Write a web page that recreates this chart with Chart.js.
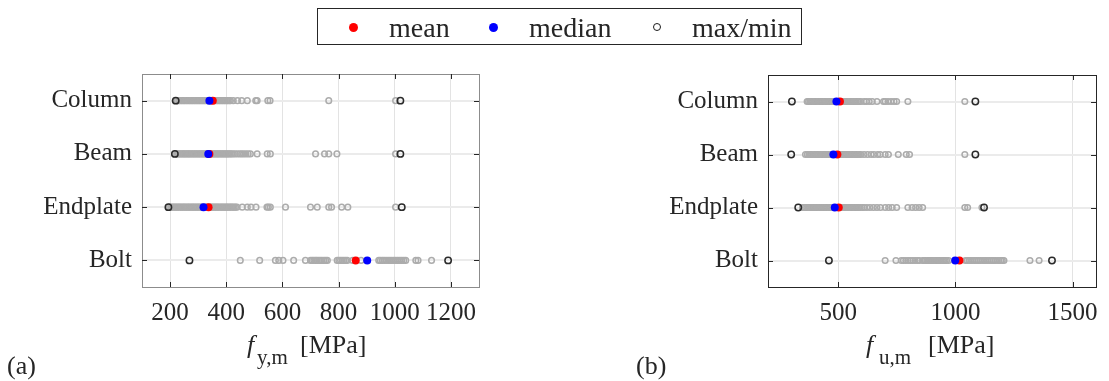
<!DOCTYPE html>
<html><head><meta charset="utf-8">
<script src="https://cdn.jsdelivr.net/npm/chart.js@4.4.1/dist/chart.umd.min.js"></script>
<style>
body{margin:0;width:1109px;height:381px;background:#fff;position:relative;overflow:hidden;font-family:"Liberation Serif","Times New Roman",serif;color:#262626}
.t{position:absolute;white-space:nowrap;line-height:1}
canvas{position:absolute;top:0}
.dot{position:absolute;border-radius:50%;box-sizing:border-box}
</style></head><body>
<canvas id="c1" width="490" height="381" style="left:0"></canvas>
<canvas id="c2" width="489" height="381" style="left:620px"></canvas>

<div style="position:absolute;left:317px;top:8px;width:485px;height:37px;border:1px solid #262626;box-sizing:border-box"></div>
<div class="dot" style="left:349px;top:22.5px;width:9px;height:9px;background:#ff0000"></div>
<div class="t" style="left:389px;top:13.5px;font-size:28px">mean</div>
<div class="dot" style="left:489px;top:22.5px;width:9px;height:9px;background:#0000ff"></div>
<div class="t" style="left:529px;top:13.5px;font-size:28px">median</div>
<div class="dot" style="left:653px;top:23px;width:8px;height:8px;border:1.5px solid #1a1a1a"></div>
<div class="t" style="left:692px;top:13.5px;font-size:28px">max/min</div>

<div class="t" style="left:247px;top:332px;font-size:26px;font-style:italic">f</div>
<div class="t" style="left:257px;top:346.5px;font-size:21px">y,m</div>
<div class="t" style="left:300px;top:332px;font-size:26px">[MPa]</div>

<div class="t" style="left:866px;top:332px;font-size:26px;font-style:italic">f</div>
<div class="t" style="left:879px;top:346.5px;font-size:21px">u,m</div>
<div class="t" style="left:928px;top:332px;font-size:26px">[MPa]</div>

<div class="t" style="left:7px;top:353px;font-size:26px">(a)</div>
<div class="t" style="left:636px;top:353px;font-size:26px">(b)</div>

<script>
// categories from bottom (y=1) to top (y=4)
const categories = ['Bolt', 'Endplate', 'Beam', 'Column'];

// ---- (a) yield strength f_y,m [MPa] ----
const fyTicks = [200, 400, 600, 800, 1000, 1200];
const fyBolt = [450, 519, 575, 587, 602, 640, 682, 700, 706, 712, 718, 723, 729, 735, 741, 748, 754, 760, 795, 801, 807, 813, 819, 825, 831, 850, 880, 943, 949, 956, 962, 969, 976, 983, 990, 997, 1004, 1011, 1018, 1025, 1032, 1039, 1075, 1083, 1131];
const fyEndplate = [198, 203, 207, 212, 216, 221, 225, 230, 234, 239, 243, 248, 252, 257, 261, 266, 270, 275, 279, 284, 288, 293, 297, 302, 306, 311, 315, 320, 324, 329, 333, 338, 342, 347, 351, 356, 360, 365, 369, 374, 378, 383, 387, 392, 396, 401, 405, 410, 414, 419, 423, 428, 433, 438, 457, 475, 488, 506, 545, 550, 557, 611, 700, 724, 765, 775, 811, 833, 1003];
const fyBeam = [220, 225, 229, 234, 238, 243, 247, 252, 256, 261, 265, 270, 274, 279, 283, 288, 292, 297, 301, 306, 310, 315, 319, 324, 328, 333, 337, 342, 346, 351, 355, 360, 364, 369, 373, 378, 382, 387, 391, 396, 400, 405, 409, 414, 419, 425, 432, 440, 448, 455, 462, 470, 478, 486, 510, 546, 557, 718, 750, 765, 794, 1003];
const fyColumn = [222, 226, 231, 235, 240, 244, 249, 253, 258, 262, 267, 271, 276, 280, 285, 289, 294, 298, 303, 307, 312, 316, 321, 325, 330, 334, 339, 343, 348, 352, 357, 361, 366, 370, 375, 379, 384, 388, 393, 397, 402, 406, 411, 415, 425, 440, 455, 475, 505, 510, 548, 556, 765, 1003];
const fyMean = [861, 337, 340, 352];
const fyMedian = [902, 319, 336, 340];
const fyMin = [269, 194, 217, 220];
const fyMax = [1190, 1025, 1020, 1020];

// ---- (b) ultimate strength f_u,m [MPa] ----
const fuTicks = [500, 1000, 1500];
const fuBolt = [700, 746, 769, 778, 788, 798, 808, 818, 828, 838, 846, 860, 866, 872, 878, 884, 890, 896, 902, 908, 914, 920, 926, 932, 938, 944, 950, 956, 962, 971, 1043, 1050, 1058, 1066, 1074, 1082, 1090, 1098, 1106, 1114, 1122, 1130, 1138, 1146, 1154, 1162, 1170, 1178, 1186, 1194, 1200, 1207, 1318, 1357];
const fuEndplate = [347, 353, 359, 365, 371, 377, 383, 389, 395, 401, 407, 413, 419, 425, 431, 437, 443, 449, 455, 461, 467, 473, 479, 485, 491, 497, 503, 509, 515, 521, 527, 533, 539, 545, 551, 557, 563, 569, 575, 581, 587, 593, 602, 610, 622, 635, 650, 665, 680, 700, 715, 730, 749, 797, 815, 830, 845, 860, 1040, 1052, 1113];
const fuBeam = [360, 368, 375, 380, 386, 392, 398, 404, 410, 416, 422, 428, 434, 440, 446, 452, 458, 464, 470, 476, 482, 488, 494, 500, 506, 512, 518, 524, 530, 536, 542, 548, 554, 560, 566, 572, 578, 584, 590, 596, 610, 625, 640, 652, 668, 679, 700, 714, 756, 790, 804, 1040];
const fuColumn = [367, 373, 379, 385, 391, 397, 403, 409, 415, 421, 427, 433, 439, 445, 451, 457, 463, 469, 475, 481, 487, 493, 499, 505, 511, 517, 523, 529, 535, 541, 547, 553, 559, 565, 571, 577, 583, 590, 596, 610, 620, 632, 645, 665, 693, 700, 712, 725, 738, 749, 797, 1040];
const fuMean = [1017, 502, 496, 507];
const fuMedian = [999, 485, 479, 492];
const fuMin = [460, 329, 299, 302];
const fuMax = [1412, 1122, 1085, 1085];

function samplePoints(groups) {
  const pts = [];
  groups.forEach((arr, i) => arr.forEach(v => pts.push({x: v, y: i + 1})));
  return pts;
}
function statPoints(arr) { return arr.map((v, i) => ({x: v, y: i + 1})); }

const boxPlugin = {
  id: 'box',
  afterDatasetsDraw(chart, args, opts) {
    const {ctx, chartArea: a, scales} = chart;
    ctx.save();
    ctx.strokeStyle = opts.color;
    ctx.lineWidth = 1;
    ctx.strokeRect(Math.round(a.left) + 0.5, Math.round(a.top) + 0.5, Math.round(a.right - a.left), Math.round(a.bottom - a.top));
    ctx.strokeStyle = '#262626';
    ctx.beginPath();
    const L = 5;
    scales.x.ticks.forEach(t => {
      const px = Math.round(scales.x.getPixelForValue(t.value)) + 0.5;
      ctx.moveTo(px, a.bottom); ctx.lineTo(px, a.bottom - L);
      ctx.moveTo(px, a.top); ctx.lineTo(px, a.top + L);
    });
    scales.y.ticks.forEach(t => {
      const py = Math.round(scales.y.getPixelForValue(t.value)) + 0.5;
      ctx.moveTo(a.left, py); ctx.lineTo(a.left + L, py);
      ctx.moveTo(a.right, py); ctx.lineTo(a.right - L, py);
    });
    ctx.stroke();
    ctx.restore();
  }
};

function makeChart(id, c) {
  const font = {family: '"Liberation Serif", "Times New Roman", serif', size: 25};
  return new Chart(document.getElementById(id), {
    type: 'scatter',
    data: {datasets: [
      {label: 'median', data: statPoints(c.median), pointRadius: 4, backgroundColor: '#0000ff', borderColor: '#0000ff', borderWidth: 0, order: 0},
      {label: 'mean', data: statPoints(c.mean), pointRadius: 4, backgroundColor: '#ff0000', borderColor: '#ff0000', borderWidth: 0, order: 1},
      {label: 'max/min', data: statPoints(c.min).concat(statPoints(c.max)), pointRadius: 3.2, backgroundColor: 'rgba(0,0,0,0)', borderColor: '#2a2a2a', borderWidth: 1.5, order: 2},
      {label: 'samples', data: samplePoints(c.groups), pointRadius: 2.8, backgroundColor: 'rgba(0,0,0,0)', borderColor: 'rgb(172,172,172)', borderWidth: 1.5, order: 3}
    ]},
    options: {
      responsive: false, animation: false, devicePixelRatio: 1,
      layout: {padding: {left: 0, right: c.padR, top: c.padT, bottom: 0}},
      plugins: {legend: {display: false}, tooltip: {enabled: false}, box: {color: c.boxColor}},
      events: [],
      scales: {
        x: {
          type: 'linear', min: c.xmin, max: c.xmax,
          afterBuildTicks: s => { s.ticks = c.ticks.map(v => ({value: v})); },
          afterFit: s => { s.height = 94; },
          grid: {color: '#e3e3e3', lineWidth: 1, drawTicks: false},
          border: {display: false},
          ticks: {font, color: '#262626', padding: 11, maxRotation: 0, autoSkip: false, callback: v => String(v)}
        },
        y: {
          type: 'linear', min: 0.5, max: 4.5,
          afterBuildTicks: s => { s.ticks = categories.map((n, i) => ({value: i + 1})); },
          afterFit: s => { s.width = c.yw; },
          grid: {color: '#ebebeb', lineWidth: 2, drawTicks: false},
          border: {display: false},
          ticks: {font, color: '#262626', padding: 10, callback: v => categories[v - 1]}
        }
      }
    },
    plugins: [boxPlugin]
  });
}

makeChart('c1', {groups: [fyBolt, fyEndplate, fyBeam, fyColumn], mean: fyMean, median: fyMedian, min: fyMin, max: fyMax,
  ticks: fyTicks, xmin: 100, xmax: 1300, yw: 142, padR: 11, padT: 74, boxColor: '#8c8c8c'});
makeChart('c2', {groups: [fuBolt, fuEndplate, fuBeam, fuColumn], mean: fuMean, median: fuMedian, min: fuMin, max: fuMax,
  ticks: fuTicks, xmin: 200, xmax: 1600, yw: 148, padR: 5, padT: 75, boxColor: '#262626'});
</script>
</body></html>
